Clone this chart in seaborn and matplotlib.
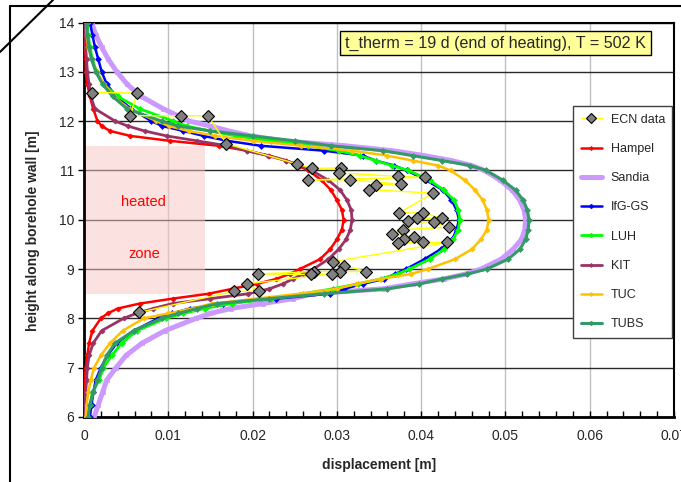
import matplotlib
matplotlib.use("Agg")
import matplotlib.pyplot as plt
from matplotlib.lines import Line2D
from matplotlib.patches import Rectangle
from matplotlib.ticker import MultipleLocator
import seaborn as sns

# heights along the borehole wall [m] shared by all model curves
heights = [6.0, 6.25, 6.5, 6.75, 7.0, 7.25, 7.5, 7.75,
           8.0, 8.1, 8.2, 8.3, 8.4, 8.5, 8.6, 8.7, 8.8, 8.9,
           9.0, 9.2, 9.4, 9.6, 9.8,
           10.0,
           10.2, 10.4, 10.6, 10.8, 11.0,
           11.1, 11.2, 11.3, 11.4, 11.5, 11.6, 11.7, 11.8, 11.9, 12.0,
           12.25, 12.5, 12.75, 13.0, 13.25, 13.5, 13.75, 14.0]

# radial displacement [m] of the borehole wall for each model
hampel = [0.0000, 0.0000, 0.0001, 0.0001, 0.0002, 0.0004, 0.0006, 0.0010,
          0.0020, 0.0028, 0.0040, 0.0066, 0.0105, 0.0148, 0.0176, 0.0205, 0.0228, 0.0244,
          0.0256, 0.0280, 0.0292, 0.0300, 0.0306,
          0.0308,
          0.0306, 0.0300, 0.0293, 0.0282, 0.0266,
          0.0254, 0.0240, 0.0220, 0.0193, 0.0160, 0.0102, 0.0055, 0.0031, 0.0021, 0.0016,
          0.0011, 0.0007, 0.0004, 0.0002, 0.0002, 0.0001, 0.0001, 0.0000]
sandia = [0.0012, 0.0017, 0.0022, 0.0027, 0.0038, 0.0050, 0.0069, 0.0096,
          0.0133, 0.0150, 0.0174, 0.0212, 0.0248, 0.0272, 0.0355, 0.0390, 0.0427, 0.0453,
          0.0471, 0.0495, 0.0509, 0.0519, 0.0523,
          0.0524,
          0.0522, 0.0517, 0.0508, 0.0494, 0.0475,
          0.0460, 0.0436, 0.0404, 0.0366, 0.0310, 0.0237, 0.0198, 0.0172, 0.0150, 0.0125,
          0.0094, 0.0068, 0.0051, 0.0039, 0.0029, 0.0021, 0.0014, 0.0009]
ifg_gs = [0.0007, 0.0009, 0.0011, 0.0014, 0.0020, 0.0028, 0.0039, 0.0059,
          0.0088, 0.0104, 0.0126, 0.0165, 0.0228, 0.0292, 0.0309, 0.0331, 0.0356, 0.0369,
          0.0382, 0.0404, 0.0423, 0.0437, 0.0442,
          0.0445,
          0.0442, 0.0436, 0.0426, 0.0406, 0.0383,
          0.0368, 0.0346, 0.0331, 0.0285, 0.0210, 0.0170, 0.0142, 0.0118, 0.0093, 0.0080,
          0.0056, 0.0038, 0.0027, 0.0021, 0.0017, 0.0013, 0.0010, 0.0007]
luh = [0.0004, 0.0007, 0.0010, 0.0018, 0.0023, 0.0033, 0.0045, 0.0063,
       0.0097, 0.0118, 0.0143, 0.0175, 0.0222, 0.0260, 0.0295, 0.0325, 0.0352, 0.0372,
       0.0386, 0.0410, 0.0427, 0.0438, 0.0444,
       0.0446,
       0.0444, 0.0439, 0.0427, 0.0410, 0.0385,
       0.0365, 0.0346, 0.0327, 0.0302, 0.0266, 0.0222, 0.0180, 0.0150, 0.0122, 0.0106,
       0.0066, 0.0040, 0.0023, 0.0015, 0.0010, 0.0007, 0.0005, 0.0004]
kit = [0.0001, 0.0001, 0.0002, 0.0003, 0.0004, 0.0006, 0.0011, 0.0021,
       0.0047, 0.0062, 0.0082, 0.0105, 0.0150, 0.0195, 0.0220, 0.0236, 0.0248, 0.0260,
       0.0272, 0.0290, 0.0302, 0.0311, 0.0316,
       0.0318,
       0.0317, 0.0312, 0.0304, 0.0290, 0.0270,
       0.0256, 0.0240, 0.0218, 0.0193, 0.0170, 0.0134, 0.0098, 0.0072, 0.0052, 0.0037,
       0.0013, 0.0008, 0.0006, 0.0004, 0.0003, 0.0002, 0.0002, 0.0001]
tuc = [0.0002, 0.0003, 0.0005, 0.0008, 0.0012, 0.0020, 0.0031, 0.0046,
       0.0071, 0.0100, 0.0128, 0.0152, 0.0205, 0.0256, 0.0300, 0.0323, 0.0352, 0.0388,
       0.0408, 0.0440, 0.0460, 0.0471, 0.0478,
       0.0480,
       0.0478, 0.0473, 0.0464, 0.0452, 0.0435,
       0.0420, 0.0390, 0.0360, 0.0318, 0.0258, 0.0200, 0.0156, 0.0124, 0.0101, 0.0086,
       0.0054, 0.0035, 0.0024, 0.0015, 0.0009, 0.0005, 0.0003, 0.0003]
tubs = [0.0005, 0.0007, 0.0011, 0.0016, 0.0021, 0.0027, 0.0037, 0.0059,
        0.0092, 0.0112, 0.0134, 0.0158, 0.0220, 0.0285, 0.0360, 0.0398, 0.0425, 0.0455,
        0.0478, 0.0503, 0.0517, 0.0524, 0.0527,
        0.0528,
        0.0526, 0.0521, 0.0512, 0.0497, 0.0477,
        0.0458, 0.0425, 0.0390, 0.0355, 0.0293, 0.0250, 0.0200, 0.0150, 0.0112, 0.0092,
        0.0051, 0.0034, 0.0022, 0.0014, 0.0009, 0.0006, 0.0004, 0.0003]

# ECN measurements, in the order they are connected
ecn_disp = [0.0010, 0.0063, 0.0055, 0.0115, 0.0147, 0.0169, 0.0253, 0.0270, 0.0305, 0.0303,
            0.0372, 0.0405, 0.0266, 0.0316, 0.0376, 0.0346, 0.0338, 0.0414, 0.0374, 0.0402,
            0.0425, 0.0395, 0.0385, 0.0415, 0.0433, 0.0379, 0.0366, 0.0392, 0.0380, 0.0373,
            0.0402, 0.0431, 0.0296, 0.0309, 0.0335, 0.0304, 0.0273, 0.0207, 0.0269, 0.0294,
            0.0193, 0.0208, 0.0178, 0.0065]
ecn_height = [12.58, 12.57, 12.11, 12.11, 12.11, 11.54, 11.13, 11.04, 11.05, 10.95,
              10.88, 10.86, 10.81, 10.81, 10.72, 10.71, 10.61, 10.54, 10.14, 10.14,
              10.03, 10.03, 9.97, 9.95, 9.85, 9.80, 9.71, 9.66, 9.61, 9.53,
              9.54, 9.54, 9.15, 9.07, 8.95, 8.95, 8.95, 8.90, 8.89, 8.90,
              8.70, 8.55, 8.55, 8.12]

x_ticks = [0, 0.01, 0.02, 0.03, 0.04, 0.05, 0.06, 0.07]
x_labels = ["0", "0.01", "0.02", "0.03", "0.04", "0.05", "0.06", "0.07"]
y_ticks = [6, 7, 8, 9, 10, 11, 12, 13, 14]

sns.set_theme(style="white")
plt.rcParams["font.family"] = ["Liberation Sans", "DejaVu Sans"]

fig = plt.figure(figsize=(6.81, 4.82), dpi=100)
ax = fig.add_axes([84 / 681, 65 / 482, 590 / 681, 394.5 / 482])

ax.set_axisbelow(True)
ax.grid(axis="x", which="major", color="#c0c0c0", lw=1)
ax.grid(axis="y", which="major", color="#2a2a2a", lw=1)

# heated zone
ax.add_patch(Rectangle((0, 8.5), 0.0143, 3.0, facecolor="#fbc5c5", alpha=0.5,
                       edgecolor="none", zorder=1))
ax.text(0.0071, 10.36, "heated", color="#ff0000", ha="center", va="center",
        fontsize=10.5, zorder=2)
ax.text(0.0072, 9.31, "zone", color="#ff0000", ha="center", va="center",
        fontsize=10.5, zorder=2)

# measured data
sns.lineplot(x=ecn_disp, y=ecn_height, sort=False, estimator=None, ax=ax,
             color="#ffff00", lw=1, marker="D", markersize=6.5,
             markerfacecolor="#808080", markeredgecolor="black",
             markeredgewidth=0.8, label="ECN data", zorder=20)

models = [
    ("Hampel", hampel, "#ff0000", 1.8, "D", 2.6),
    ("Sandia", sandia, "#cc99ff", 3.6, "s", 3.2),
    ("IfG-GS", ifg_gs, "#0000ff", 1.8, "D", 3.0),
    ("LUH", luh, "#00ff00", 2.0, "D", 3.0),
    ("KIT", kit, "#993366", 2.0, "D", 2.6),
    ("TUC", tuc, "#ffc000", 1.8, "D", 2.6),
    ("TUBS", tubs, "#339966", 2.2, "D", 3.0),
]
for i, (name, vals, color, lw, mk, ms) in enumerate(models):
    sns.lineplot(x=vals, y=heights, sort=False, estimator=None, ax=ax,
                 color=color, lw=lw, marker=mk, markersize=ms,
                 markerfacecolor=color, markeredgecolor=color,
                 markeredgewidth=0.5, label=name, zorder=3 + i)

ax.set_xlim(0, 0.07)
ax.set_ylim(6, 14)
ax.set_xticks(x_ticks)
ax.set_xticklabels(x_labels)
ax.set_yticks(y_ticks)
ax.set_yticklabels([str(v) for v in y_ticks])
ax.xaxis.set_minor_locator(MultipleLocator(0.002))
ax.tick_params(axis="x", which="both", direction="in", bottom=True, top=False,
               length=4, width=1, color="black", pad=9, labelsize=10)
ax.tick_params(axis="y", which="major", direction="out", left=True, right=False,
               length=4, width=1, color="black", pad=3, labelsize=10)

for side, s in ax.spines.items():
    s.set_color("black")
    s.set_linewidth(2.0 if side in ("bottom", "left") else 1.5)

ax.set_xlabel("displacement [m]", fontsize=10, fontweight="bold")
ax.set_ylabel("height along borehole wall [m]", fontsize=10, fontweight="bold")
ax.xaxis.set_label_coords(0.5, -0.104)
ax.yaxis.set_label_coords(-0.074, 0.471)

ax.text(0.697, 0.948, "t_therm = 19 d (end of heating), T = 502 K",
        transform=ax.transAxes, ha="center", va="center", fontsize=11.6,
        bbox=dict(boxstyle="square,pad=0.3", facecolor="#ffff99",
                  edgecolor="black", lw=1), zorder=30)

leg = ax.legend(loc="upper left", bbox_to_anchor=(0.829, 0.788), frameon=True,
                fancybox=False, edgecolor="#404040", framealpha=1, fontsize=9,
                handlelength=1.7, handletextpad=0.7, labelspacing=1.38,
                borderpad=0.6, borderaxespad=0, markerscale=0.8)
leg.get_frame().set_linewidth(1)
leg.set_zorder(40)

# outer frame of the figure
fig.add_artist(Line2D([10 / 681, 10 / 681], [0, 1 - 6 / 482], color="black",
                      lw=1.5, transform=fig.transFigure))
fig.add_artist(Line2D([10 / 681, 1], [1 - 6 / 482, 1 - 6 / 482], color="black",
                      lw=1.5, transform=fig.transFigure))
fig.add_artist(Line2D([0, 53 / 681], [1 - 52 / 482, 1], color="black",
                      lw=1.5, transform=fig.transFigure))

fig.savefig("out.png", dpi=100)
